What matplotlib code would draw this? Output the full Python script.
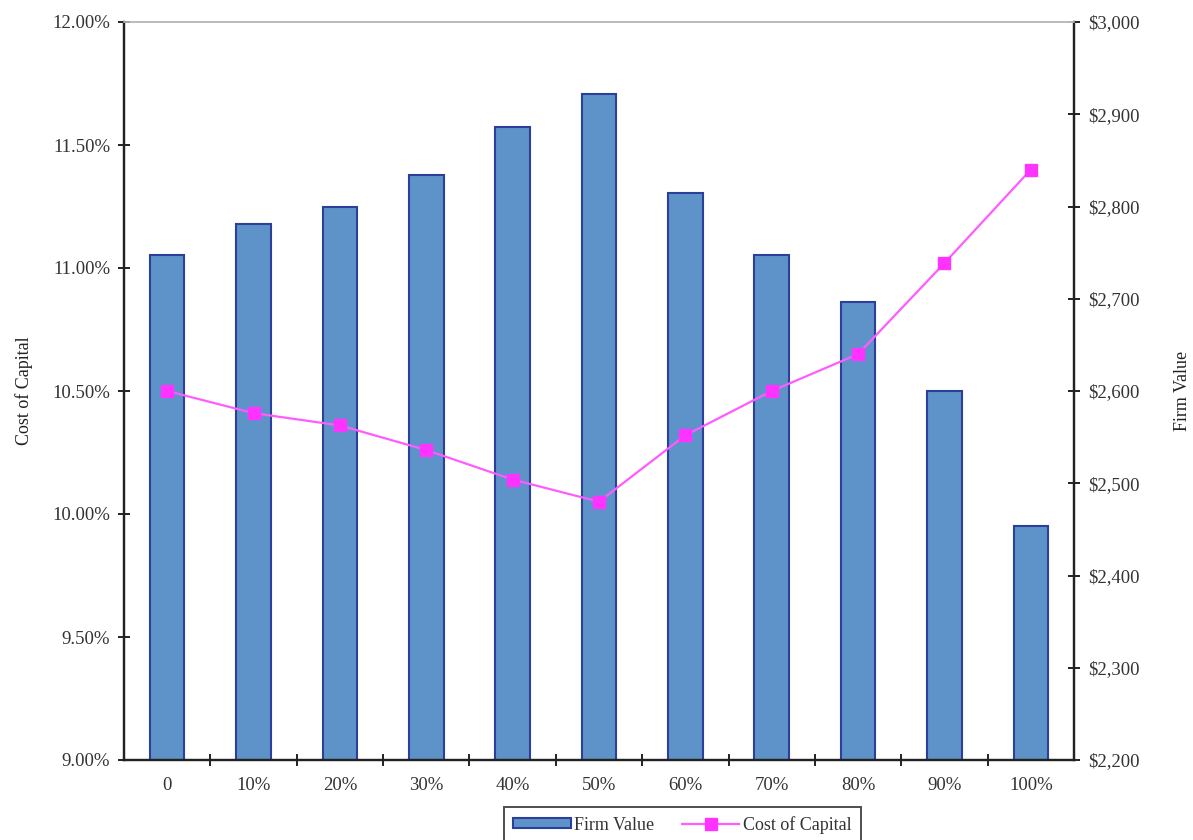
import matplotlib
matplotlib.use("Agg")
import matplotlib.pyplot as plt
from matplotlib.ticker import FuncFormatter, FixedLocator
import numpy as np

categories = ["0", "10%", "20%", "30%", "40%", "50%", "60%", "70%", "80%", "90%", "100%"]
firm_value = [2747, 2781, 2800, 2834, 2886, 2922, 2815, 2747, 2696, 2600, 2454]
cost_of_capital = [10.50, 10.41, 10.36, 10.26, 10.14, 10.05, 10.32, 10.50, 10.65, 11.02, 11.40]

plt.rcParams['font.family'] = ['Liberation Serif', 'DejaVu Serif']

fig = plt.figure(figsize=(11.93, 8.4), dpi=100)
ax1 = fig.add_axes([124/1193, 1-760/840, (1074-124)/1193, (760-22)/840])
ax2 = ax1.twinx()

x = np.arange(len(categories))

ax2.bar(x, firm_value, width=0.4, color="#5E93C9", edgecolor="#2B3F9B", linewidth=1.5,
        label="Firm Value")
ax2.set_ylim(2200, 3000)
ax2.set_yticks(np.arange(2200, 3001, 100))
ax2.yaxis.set_major_formatter(FuncFormatter(lambda v, p: "${:,.0f}".format(v)))

ax1.plot(x, cost_of_capital, color="#FF5CFF", linewidth=1.6, marker="s", markersize=8,
         markerfacecolor="#FF33FF", markeredgecolor="#FF33FF", label="Cost of Capital")
ax1.set_ylim(9.0, 12.0)
ax1.set_yticks(np.arange(9.0, 12.01, 0.5))
ax1.yaxis.set_major_formatter(FuncFormatter(lambda v, p: "{:.2f}%".format(v)))
ax1.set_xlim(-0.5, len(categories) - 0.5)
ax1.set_xticks(x)
ax1.set_xticklabels(categories)
ax1.xaxis.set_minor_locator(FixedLocator(np.arange(0.5, len(categories) - 0.5, 1.0)))

ax1.set_zorder(ax2.get_zorder() + 1)
ax1.patch.set_visible(False)

tick_color = "#333333"
fs = 13.5
for ax in (ax1, ax2):
    for s in ax.spines.values():
        s.set_linewidth(1.6)
        s.set_color("#222222")
    ax.spines["top"].set_color("#BBBBBB")
    ax.spines["top"].set_linewidth(1.2)

ax1.tick_params(axis="y", direction="inout", length=8, width=1.4, color="#222222",
                labelsize=fs, labelcolor=tick_color, pad=6)
ax2.tick_params(axis="y", direction="inout", length=8, width=1.4, color="#222222",
                labelsize=fs, labelcolor=tick_color, pad=6)
ax1.tick_params(axis="x", which="major", length=0, labelsize=fs, labelcolor=tick_color, pad=12)
ax1.tick_params(axis="x", which="minor", direction="inout", length=8, width=1.4, color="#222222")

ax1.set_ylabel("Cost of Capital", fontsize=13, color="#222222", labelpad=14)
ax2.set_ylabel("Firm Value", fontsize=13, color="#222222", labelpad=25)

h1, l1 = ax2.get_legend_handles_labels()
h2, l2 = ax1.get_legend_handles_labels()
leg = fig.legend(h1 + h2, l1 + l2, loc="lower center", bbox_to_anchor=(0.572, -0.014),
                 ncol=2, frameon=True, fancybox=False, edgecolor="#222222",
                 fontsize=13, handlelength=3.2, handleheight=0.5, columnspacing=1.5,
                 handletextpad=0.2, borderpad=0.5)
leg.get_frame().set_linewidth(1.4)
for t in leg.get_texts():
    t.set_color("#333333")

fig.savefig("out.png", dpi=100)
